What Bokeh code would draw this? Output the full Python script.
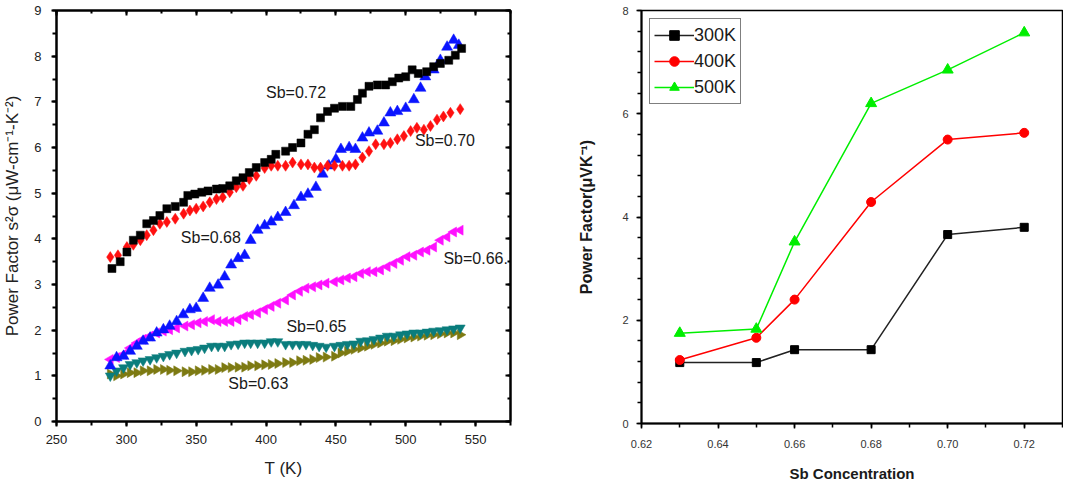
import math
from bokeh.plotting import figure
from bokeh.layouts import row
from bokeh.models import (Range1d, LinearAxis, SingleIntervalTicker, Legend, LegendItem,
                          NumeralTickFormatter, CustomJSTickFormatter)
from bokeh.core.properties import value
from bokeh.embed import file_html
from bokeh.resources import INLINE

FONT = "Liberation Sans"

# ---------------- Left panel data: power factor vs temperature ----------------
t_072 = [289.7, 295.6, 300.4, 305, 310, 314.6, 319.4, 324, 329, 335, 341, 344, 349, 354, 358.5,
         364.5, 369, 374, 378.7, 383.5, 388, 393, 399, 403.7, 407, 414, 419, 425, 430, 434.6,
         439, 444, 449, 454.7, 460.7, 465.4, 469, 473.7, 479.7, 485.6, 490.4, 495, 500, 504.6,
         509, 515, 520, 524.8, 530.8, 535.5, 540]
pf_072 = [3.35, 3.5, 3.71, 3.97, 4.08, 4.33, 4.4, 4.51, 4.66, 4.71, 4.8, 4.95, 4.98, 5.02, 5.05,
          5.09, 5.1, 5.16, 5.27, 5.34, 5.45, 5.56, 5.67, 5.74, 5.85, 5.92, 6.0, 6.1, 6.29, 6.39,
          6.65, 6.79, 6.86, 6.9, 6.9, 7.05, 7.19, 7.34, 7.37, 7.37, 7.44, 7.52, 7.55, 7.7,
          7.62, 7.66, 7.77, 7.84, 7.91, 8.02, 8.17]

t_070 = [288.5, 294, 300.4, 305, 310, 314.6, 319.4, 324, 329, 335, 341, 345.5, 350, 355, 359.7,
         364.5, 369, 374, 378.7, 383.5, 388, 393, 399, 403.7, 408.4, 414, 419, 425, 430, 434.6,
         439, 444, 449, 454.7, 459.5, 464, 469, 473.7, 478.5, 484.4, 489, 494, 498.7, 503.5,
         508, 513, 517.7, 522.4, 527, 532, 539]
pf_070 = [3.6, 3.64, 3.82, 3.87, 3.97, 4.08, 4.19, 4.33, 4.37, 4.44, 4.55, 4.62, 4.66, 4.71, 4.8,
          4.87, 4.91, 5.02, 5.13, 5.16, 5.31, 5.38, 5.55, 5.6, 5.6, 5.6, 5.67, 5.63, 5.63, 5.56,
          5.56, 5.6, 5.6, 5.6, 5.6, 5.63, 5.78, 5.92, 6.07, 6.07, 6.1, 6.18, 6.25, 6.36,
          6.43, 6.39, 6.47, 6.61, 6.68, 6.76, 6.84]

t_068 = [288.5, 293, 298, 302.7, 307.5, 312, 317, 321.7, 326.5, 331, 336, 340.7, 345.5, 350, 355,
         359.7, 365.7, 370.4, 375, 380, 384.7, 389, 394, 399, 403.7, 408.4, 414, 420, 425, 430,
         435.7, 440.5, 445, 450, 453.6, 459.5, 464, 469, 473.7, 479.7, 484.4, 489, 494, 500,
         505.8, 510.6, 514, 520, 524.8, 529.6, 534.3, 538]
pf_068 = [1.22, 1.4, 1.43, 1.54, 1.65, 1.76, 1.83, 1.94, 2.01, 2.09, 2.19, 2.34, 2.45, 2.48, 2.7,
          2.92, 2.99, 3.17, 3.43, 3.57, 3.64, 3.97, 4.19, 4.29, 4.37, 4.47, 4.58, 4.73, 4.91, 4.98,
          5.13, 5.42, 5.6, 5.74, 5.96, 6.0, 5.96, 6.21, 6.32, 6.36, 6.54, 6.76, 6.79, 6.86,
          7.05, 7.3, 7.55, 7.7, 7.91, 8.2, 8.35, 8.24]

t_low = [288.5, 293, 298, 302.7, 307.5, 312, 317, 321.7, 326.5, 331, 336, 342, 346.7, 351.4, 356,
         361, 365.7, 370.4, 375, 380, 384.7, 389, 394, 399, 403.7, 408.4, 414, 419, 424, 428.6,
         433.4, 438, 443, 449, 453.6, 458.3, 463, 467.8, 472.6, 477.3, 482, 486.8, 491.6, 496.3,
         501, 505.8, 510.6, 515.3, 520, 524.8, 529.6, 534.3, 539]
pf_066 = [1.36, 1.4, 1.47, 1.61, 1.72, 1.8, 1.87, 1.94, 1.98, 2.01, 2.05, 2.09, 2.12, 2.16, 2.19,
          2.23, 2.19, 2.19, 2.19, 2.23, 2.3, 2.34, 2.38, 2.45, 2.52, 2.59, 2.66, 2.77, 2.85, 2.92,
          2.95, 2.99, 3.03, 3.06, 3.1, 3.14, 3.17, 3.24, 3.28, 3.28, 3.32, 3.39, 3.46, 3.53,
          3.61, 3.64, 3.71, 3.75, 3.82, 3.97, 4.04, 4.15, 4.19]
pf_065 = [1.0, 1.11, 1.18, 1.25, 1.29, 1.33, 1.36, 1.4, 1.43, 1.47, 1.5, 1.54, 1.56, 1.58, 1.61,
          1.65, 1.65, 1.65, 1.69, 1.7, 1.72, 1.72, 1.72, 1.72, 1.75, 1.75, 1.69, 1.69, 1.69, 1.69,
          1.67, 1.65, 1.63, 1.65, 1.67, 1.69, 1.7, 1.76, 1.77, 1.8, 1.83, 1.87, 1.87, 1.9,
          1.92, 1.94, 1.94, 1.96, 1.98, 1.99, 2.01, 2.03, 2.05]
pf_063 = [1.04, 1.0, 1.04, 1.07, 1.07, 1.11, 1.11, 1.14, 1.14, 1.12, 1.11, 1.09, 1.09, 1.11, 1.12,
          1.14, 1.14, 1.18, 1.18, 1.19, 1.19, 1.22, 1.22, 1.24, 1.25, 1.27, 1.29, 1.29, 1.33, 1.34,
          1.36, 1.4, 1.41, 1.43, 1.5, 1.54, 1.58, 1.61, 1.65, 1.69, 1.72, 1.76, 1.77, 1.8,
          1.83, 1.85, 1.87, 1.89, 1.9, 1.92, 1.94, 1.94, 1.9]

label_text = ["Sb=0.72", "Sb=0.70", "Sb=0.68", "Sb=0.66.", "Sb=0.65", "Sb=0.63"]
label_t = [400, 506.6, 339, 527, 414.6, 373]
label_pf = [7.2, 6.15, 4.02, 3.57, 2.07, 0.83]

# ---------------- Right panel data: power factor vs Sb concentration ----------------
sb_conc = [0.63, 0.65, 0.66, 0.68, 0.70, 0.72]
pf_300K = [1.18, 1.18, 1.43, 1.43, 3.66, 3.8]
pf_400K = [1.23, 1.66, 2.4, 4.29, 5.5, 5.63]
pf_500K = [1.75, 1.83, 3.52, 6.2, 6.85, 7.57]

EMPTY = CustomJSTickFormatter(code="return ''")

# ============ Left figure ============
p1 = figure(width=560, height=486, output_backend="svg", toolbar_location=None,
            x_range=Range1d(250, 575), y_range=Range1d(0, 9),
            min_border_left=54, min_border_right=50, min_border_top=7, min_border_bottom=65)
p1.xgrid.visible = False
p1.ygrid.visible = False
p1.outline_line_color = "black"
p1.outline_line_width = 2

for ax in (p1.xaxis[0], p1.yaxis[0]):
    ax.axis_line_width = 2
    ax.major_tick_line_width = 2
    ax.minor_tick_line_width = 2
    ax.major_tick_out = 5
    ax.major_tick_in = 0
    ax.minor_tick_out = 4
    ax.minor_tick_in = 0
    ax.major_label_text_font = FONT
    ax.major_label_text_font_size = "13px"
    ax.major_label_text_color = "#222222"
    ax.axis_label_text_font = FONT
    ax.axis_label_text_font_size = "17px"
    ax.axis_label_text_font_style = "normal"
    ax.axis_label_text_color = "#222222"

p1.xaxis[0].ticker = SingleIntervalTicker(interval=50, num_minor_ticks=2)
p1.yaxis[0].ticker = SingleIntervalTicker(interval=1, num_minor_ticks=2)
p1.xaxis[0].axis_label = "T (K)"
p1.yaxis[0].axis_label = "Power Factor s²σ (μW-cm⁻¹-K⁻²)"
p1.xaxis[0].major_label_standoff = 8
p1.xaxis[0].axis_label_standoff = 12
p1.yaxis[0].major_label_standoff = 10
p1.yaxis[0].axis_label_standoff = 9

for loc, interval in (("above", 50), ("right", 1)):
    mirror = LinearAxis(ticker=SingleIntervalTicker(interval=interval, num_minor_ticks=2),
                        formatter=EMPTY, major_label_text_font_size="2px",
                        major_label_standoff=0, axis_line_width=2,
                        major_tick_in=5, major_tick_out=0, minor_tick_in=3, minor_tick_out=0,
                        major_tick_line_width=2, minor_tick_line_width=2)
    p1.add_layout(mirror, loc)

p1.scatter(t_low, pf_063, marker="triangle", angle=-math.pi / 2, size=10,
           color="#7d7a12", line_width=0.5)
p1.scatter(t_low, pf_065, marker="inverted_triangle", size=10,
           color="#0a7d7d", line_width=0.5)
p1.scatter(t_low, pf_066, marker="triangle", angle=math.pi / 2, size=10,
           color="#ff10ff", line_width=0.5)
p1.scatter(t_068, pf_068, marker="triangle", size=11,
           color="#0a14ff", line_width=0.5)
p1.scatter(t_070, pf_070, marker="diamond", size=11,
           color="#ff1010", line_width=0.5)
p1.scatter(t_072, pf_072, marker="square", size=8,
           color="black", line_width=0.5)

p1.text(x=label_t, y=label_pf, text=label_text, text_font=value(FONT),
        text_font_size="16px", text_baseline="middle", text_align="left",
        text_color="#1a1a1a")

# ============ Right figure ============
p2 = figure(width=503, height=488, output_backend="svg", toolbar_location=None,
            x_range=Range1d(0.62, 0.73), y_range=Range1d(0, 8),
            min_border_left=81, min_border_right=1, min_border_top=10, min_border_bottom=60)
p2.xgrid.visible = False
p2.ygrid.visible = False
p2.outline_line_color = "black"
p2.outline_line_width = 1.5

for ax in (p2.xaxis[0], p2.yaxis[0]):
    ax.axis_line_width = 2
    ax.major_tick_line_width = 1.5
    ax.minor_tick_line_width = 1.5
    ax.major_tick_out = 5
    ax.major_tick_in = 0
    ax.minor_tick_out = 4
    ax.minor_tick_in = 0
    ax.major_label_text_font = FONT
    ax.major_label_text_font_size = "11px"
    ax.major_label_text_color = "#333333"
    ax.axis_label_text_font = FONT
    ax.axis_label_text_font_style = "bold"
    ax.axis_label_text_color = "#1a1a1a"

p2.xaxis[0].ticker = SingleIntervalTicker(interval=0.02, num_minor_ticks=2)
p2.xaxis[0].formatter = NumeralTickFormatter(format="0.00")
p2.yaxis[0].ticker = SingleIntervalTicker(interval=2, num_minor_ticks=5)
p2.xaxis[0].axis_label = "Sb Concentration"
p2.yaxis[0].axis_label = "Power Factor(μVK⁻¹)"
p2.xaxis[0].axis_label_text_font_size = "15px"
p2.yaxis[0].axis_label_text_font_size = "16px"
p2.xaxis[0].major_label_standoff = 11
p2.xaxis[0].axis_label_standoff = 14
p2.yaxis[0].major_label_standoff = 8
p2.yaxis[0].axis_label_standoff = 24

l300 = p2.line(sb_conc, pf_300K, line_color="#222222", line_width=1.5)
s300 = p2.scatter(sb_conc, pf_300K, marker="square", size=8, color="black")
l400 = p2.line(sb_conc, pf_400K, line_color="#ff0000", line_width=1.5)
s400 = p2.scatter(sb_conc, pf_400K, marker="circle", size=9, color="#ff0000")
l500 = p2.line(sb_conc, pf_500K, line_color="#00ee00", line_width=1.5)
s500 = p2.scatter(sb_conc, pf_500K, marker="triangle", size=11, color="#00ee00")

legend = Legend(items=[LegendItem(label="300K", renderers=[l300, s300]),
                       LegendItem(label="400K", renderers=[l400, s400]),
                       LegendItem(label="500K", renderers=[l500, s500])],
                location="top_left", label_text_font=FONT, label_text_font_size="18px",
                label_text_color="#1a1a1a", glyph_width=40, glyph_height=24,
                label_standoff=0, label_height=24, spacing=2, padding=4, margin=8,
                border_line_color="black", border_line_width=1.5,
                background_fill_alpha=1.0)
p2.add_layout(legend)

layout = row(p1, p2)
open("out.html", "w").write(file_html(layout, INLINE))
